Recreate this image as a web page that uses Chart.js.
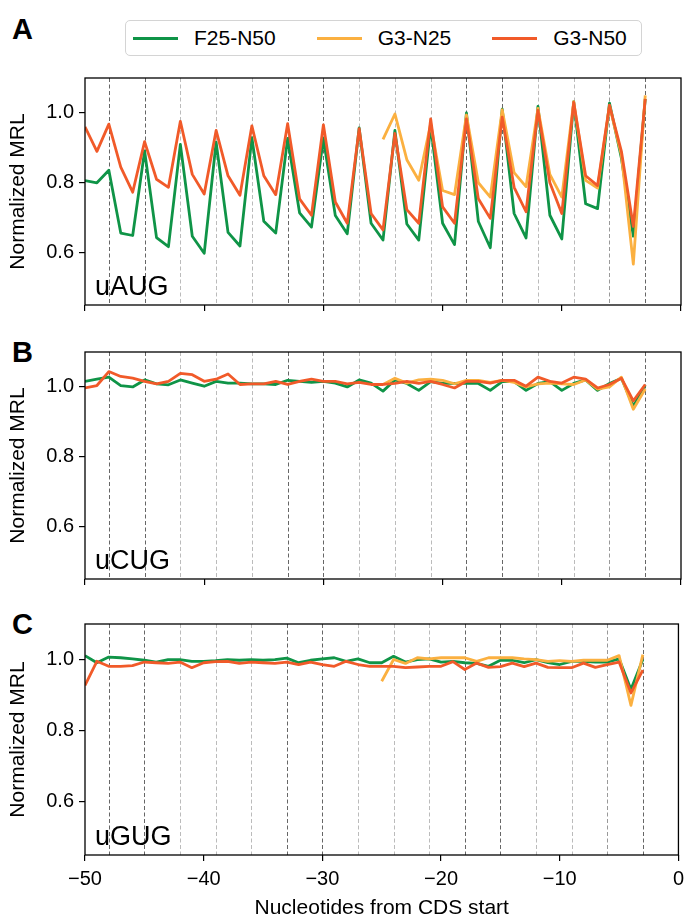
<!DOCTYPE html>
<html>
<head>
<meta charset="utf-8">
<script src="https://cdn.jsdelivr.net/npm/chart.js@4.4.1/dist/chart.umd.min.js"></script>
<style>
  body { margin: 0; background: #fff; font-family: "Liberation Sans", Arial, sans-serif; }
  #wrap { position: relative; width: 690px; height: 920px; overflow: hidden; }
  canvas { position: absolute; left: 0; }
  .letter { position: absolute; left: 12px; font-weight: bold; font-size: 29px; line-height: 1; color: #000; }
  #legend {
    position: absolute; left: 125px; top: 20px; width: 508px; height: 34px;
    border: 1.5px solid #d4d4d4; border-radius: 5px;
    display: flex; align-items: center; padding-left: 7px; box-sizing: content-box;
    font-size: 21px; color: #000; white-space: nowrap;
  }
  .item { display: flex; align-items: center; margin-right: 41px; flex: none; }
  .swatch { width: 45px; height: 3px; margin-right: 16px; flex: none; }
</style>
</head>
<body>
<div id="wrap">
  <div class="letter" style="top:15px">A</div>
  <div class="letter" style="top:338px">B</div>
  <div class="letter" style="top:610px">C</div>
  <div id="legend"></div>
  <canvas id="panelA" width="690" height="262" style="top:60px"></canvas>
  <canvas id="panelB" width="690" height="262" style="top:334px"></canvas>
  <canvas id="panelC" width="690" height="314" style="top:606px"></canvas>
</div>
<script>
// positions (nt from CDS start)
const positions = [-50,-49,-48,-47,-46,-45,-44,-43,-42,-41,-40,-39,-38,-37,-36,-35,-34,-33,-32,-31,-30,-29,-28,-27,-26,
  -25,-24,-23,-22,-21,-20,-19,-18,-17,-16,-15,-14,-13,-12,-11,-10,-9,-8,-7,-6,-5,-4,-3]
const positionsShort = [-25,-24,-23,-22,-21,-20,-19,-18,-17,-16,-15,-14,-13,-12,-11,-10,-9,-8,-7,-6,-5,-4,-3]
const guideLines = [-48,-45,-42,-39,-36,-33,-30,-27,-24,-21,-18,-15,-12,-9,-6,-3]
const xTicks = [-50,-40,-30,-20,-10,0]
const yTicks = [0.6,0.8,1.0]
const seriesNames = ["F25-N50", "G3-N25", "G3-N50"]

// uAUG
const uAUG_F25N50 = [0.806,0.80,0.836,0.656,0.649,0.891,0.643,0.617,0.91,0.647,0.598,0.916,0.658,0.619,0.929,0.69,0.656,0.927,0.714,0.673,0.927,0.706,0.654,0.957,0.684,
  0.636,0.95,0.682,0.636,0.964,0.684,0.623,1.0,0.689,0.614,1.011,0.712,0.642,1.019,0.707,0.639,1.032,0.74,0.726,1.028,0.87,0.647,1.04]
const uAUG_G3N25 = [0.924,0.997,0.866,0.807,0.969,0.778,0.766,0.994,0.8,0.759,1.009,0.829,0.789,1.013,0.824,0.759,1.032,0.807,0.785,1.021,0.88,0.567,1.05]
const uAUG_G3N50 = [0.96,0.89,0.968,0.845,0.773,0.918,0.81,0.787,0.976,0.824,0.768,0.95,0.82,0.764,0.963,0.82,0.766,0.969,0.754,0.707,0.966,0.745,0.684,0.955,0.712,
  0.665,0.941,0.723,0.684,0.983,0.731,0.684,0.983,0.754,0.698,0.988,0.787,0.717,1.007,0.8,0.712,1.03,0.82,0.792,1.022,0.89,0.675,1.04]

// uCUG
const uCUG_F25N50 = [1.016,1.022,1.028,1.004,1.0,1.02,1.009,1.006,1.02,1.011,1.002,1.016,1.011,1.011,1.009,1.009,1.007,1.019,1.016,1.013,1.016,1.011,1.0,1.02,1.011,
  0.988,1.02,1.01,0.99,1.015,1.01,1.01,1.01,1.01,0.99,1.015,1.015,0.99,1.01,1.015,0.99,1.01,1.02,0.99,1.01,1.025,0.945,1.005]
const uCUG_G3N25 = [1.007,1.025,1.011,1.02,1.022,1.019,1.009,1.019,1.019,1.013,1.019,1.013,1.0,1.009,1.011,1.009,1.007,1.02,0.994,1.0,1.028,0.936,0.994]
const uCUG_G3N50 = [0.997,1.004,1.044,1.03,1.025,1.016,1.009,1.016,1.039,1.035,1.016,1.022,1.037,1.007,1.009,1.009,1.016,1.007,1.016,1.022,1.016,1.016,1.009,1.013,1.007,
  1.007,1.01,1.016,1.01,1.016,1.007,0.997,1.016,1.016,1.011,1.019,1.019,1.002,1.028,1.016,1.011,1.028,1.022,0.997,1.007,1.025,0.96,1.007]

// uGUG
const uGUG_F25N50 = [1.011,0.991,1.007,1.005,1.002,0.998,0.993,1.0,1.0,0.995,0.995,0.997,1.0,0.998,1.0,0.998,1.0,1.004,0.991,0.998,1.002,1.005,0.995,1.002,0.991,
  0.991,1.009,0.993,1.0,1.002,0.993,0.995,0.991,0.989,0.981,0.998,0.998,0.991,1.0,0.991,0.986,0.995,0.995,0.993,0.993,1.002,0.916,1.0]
const uGUG_G3N25 = [0.939,1.0,0.989,1.005,1.002,1.005,1.005,1.005,0.995,1.005,1.005,1.005,1.002,1.0,0.995,0.997,0.995,0.998,0.998,0.998,1.011,0.871,1.014]
const uGUG_G3N50 = [0.927,0.995,0.981,0.981,0.983,0.993,0.991,0.989,0.993,0.977,0.991,0.994,0.995,0.989,0.993,0.991,0.989,0.993,0.986,0.993,0.986,0.981,0.995,0.986,0.981,
  0.981,0.981,0.977,0.979,0.981,0.981,0.994,0.972,0.99,0.978,0.98,0.99,0.98,0.99,0.978,0.977,0.977,0.99,0.978,0.986,0.993,0.906,0.97]

const colors = ["#0f9447", "#fbb040", "#f15a29"]
const FONT = "'Liberation Sans', Arial, sans-serif"
// guide lines that render darker in the reference
const darkGuides = [-48,-45,-33,-30,-18,-15,-3]

// legend (html)
const legendEl = document.getElementById("legend")
seriesNames.forEach((name, i) => {
  const item = document.createElement("div")
  item.className = "item"
  item.innerHTML = '<span class="swatch" style="background:' + colors[i] + '"></span><span>' + name + '</span>'
  legendEl.appendChild(item)
})

// dashed vertical guides + frame + motif label
const panelDecor = {
  id: "panelDecor",
  beforeDatasetsDraw(chart) {
    const { ctx, chartArea, scales } = chart
    ctx.save()
    ctx.lineWidth = 1
    ctx.setLineDash([4, 2.5])
    guideLines.forEach(v => {
      const x = Math.round(scales.x.getPixelForValue(v)) + 0.5
      ctx.strokeStyle = darkGuides.includes(v) ? "#666" : (v === -6 ? "#999" : "#bbb")
      ctx.beginPath()
      ctx.moveTo(x, chartArea.top)
      ctx.lineTo(x, chartArea.bottom)
      ctx.stroke()
    })
    ctx.restore()
  },
  afterDraw(chart) {
    const { ctx, chartArea } = chart
    ctx.save()
    ctx.strokeStyle = "#000"
    ctx.lineWidth = 1.3
    ctx.strokeRect(chartArea.left, chartArea.top, chartArea.right - chartArea.left, chartArea.bottom - chartArea.top)
    ctx.fillStyle = "#000"
    ctx.font = "27px " + FONT
    ctx.textBaseline = "alphabetic"
    ctx.fillText(chart.options.plugins.panelDecor.motif, chartArea.left + 10, chartArea.bottom - 10)
    ctx.restore()
  }
}

function line(label, xs, ys, color, order) {
  return {
    label: label,
    data: xs.map((x, i) => ({ x: x, y: ys[i] })),
    borderColor: color,
    backgroundColor: color,
    borderWidth: 2.8,
    borderJoinStyle: "round",
    pointRadius: 0,
    tension: 0,
    order: order
  }
}

function makePanel(id, motif, f25, g3n25, g3n50, isBottom) {
  const canvas = document.getElementById(id)
  return new Chart(canvas, {
    type: "line",
    data: {
      datasets: [
        line(seriesNames[0], positions, f25, colors[0], 2),
        line(seriesNames[1], positionsShort, g3n25, colors[1], 1),
        line(seriesNames[2], positions, g3n50, colors[2], 0)
      ]
    },
    options: {
      responsive: false,
      animation: false,
      devicePixelRatio: 1,
      layout: { padding: { top: 18, right: 9, left: 0, bottom: 0 } },
      plugins: {
        legend: { display: false },
        tooltip: { enabled: false },
        panelDecor: { motif: motif }
      },
      scales: {
        x: {
          type: "linear",
          min: -50,
          max: 0,
          afterBuildTicks: s => { s.ticks = xTicks.map(v => ({ value: v })) },
          afterFit: s => { s.height = isBottom ? 65 : 13 },
          border: { display: false },
          grid: { drawOnChartArea: false, drawTicks: true, tickLength: 6, color: "#000", lineWidth: 1.2 },
          ticks: {
            display: isBottom,
            maxRotation: 0,
            padding: 6,
            color: "#000",
            font: { family: FONT, size: 20 },
            callback: v => (v < 0 ? "\u2212" + Math.abs(v) : String(v))
          },
          title: {
            display: isBottom,
            text: "Nucleotides from CDS start",
            color: "#000",
            font: { family: FONT, size: 21, lineHeight: 1.0 },
            padding: { top: 0, bottom: 1 }
          }
        },
        y: {
          min: 0.45,
          max: 1.1,
          afterBuildTicks: s => { s.ticks = yTicks.map(v => ({ value: v })) },
          afterFit: s => { s.width = 85 },
          border: { display: false },
          grid: { drawOnChartArea: false, drawTicks: true, tickLength: 6, color: "#000", lineWidth: 1.2 },
          ticks: {
            padding: 5,
            color: "#000",
            font: { family: FONT, size: 20 },
            callback: v => v.toFixed(1)
          },
          title: {
            display: true,
            text: "Normalized MRL",
            color: "#000",
            font: { family: FONT, size: 21 },
            padding: { top: 6, bottom: 0 }
          }
        }
      }
    },
    plugins: [panelDecor]
  })
}

makePanel("panelA", "uAUG", uAUG_F25N50, uAUG_G3N25, uAUG_G3N50, false)
makePanel("panelB", "uCUG", uCUG_F25N50, uCUG_G3N25, uCUG_G3N50, false)
makePanel("panelC", "uGUG", uGUG_F25N50, uGUG_G3N25, uGUG_G3N50, true)
</script>
</body>
</html>
